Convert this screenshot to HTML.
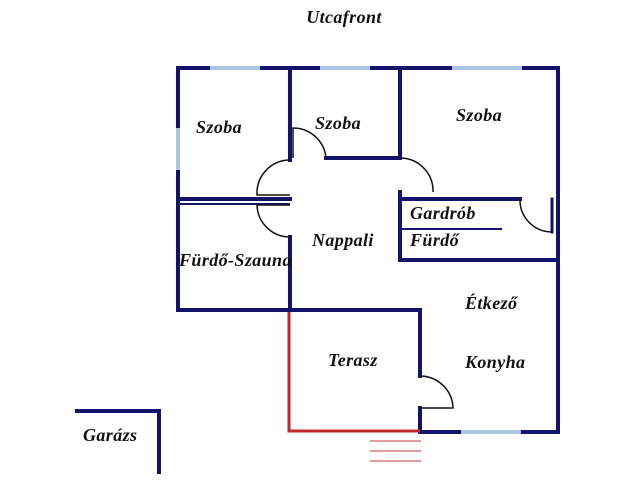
<!DOCTYPE html>
<html><head><meta charset="utf-8"><style>
html,body{margin:0;padding:0;background:#fff;width:640px;height:480px;overflow:hidden}
text{font-family:"Liberation Serif",serif;font-weight:bold;font-style:italic;font-size:18px;letter-spacing:0.4px;fill:#111}
</style></head><body>
<svg width="640" height="480" viewBox="0 0 640 480" xmlns="http://www.w3.org/2000/svg">
<g stroke="#13136b" stroke-width="4" fill="none" stroke-linecap="square">
<path d="M178 68 H558 V432 H420"/>
<path d="M178 68 V310 H420"/>
<path d="M290 68 V160"/>
<path d="M326 158 H400 V68"/>
<path d="M178 199 H290"/>
<path d="M290 237 V310"/>
<path d="M400 192 V260 H558"/>
<path d="M400 199 H520"/>
<path d="M552 199 V232" stroke-width="3"/>
<path d="M420 310 V376"/>
<path d="M420 408 V432"/>
<path d="M77 411 H159 V472"/>
</g>
<line x1="178" y1="204" x2="290" y2="204" stroke="#13136b" stroke-width="2"/>
<line x1="400" y1="229" x2="502" y2="229" stroke="#13136b" stroke-width="2"/>
<g stroke="#a9c6e2" stroke-width="4">
<line x1="210" y1="68" x2="260" y2="68"/>
<line x1="320" y1="68" x2="370" y2="68"/>
<line x1="452" y1="68" x2="522" y2="68"/>
<line x1="178" y1="128" x2="178" y2="170"/>
<line x1="461" y1="432" x2="521" y2="432"/>
</g>
<g stroke="#111" stroke-width="1.5" fill="none">
<path d="M293 158 V128 A33 33 0 0 1 326 158"/>
<path d="M290 160 A33 33 0 0 0 257 193 V195 H290"/>
<path d="M290 237 A33 33 0 0 1 257 205 H290"/>
<path d="M400 158 A33 33 0 0 1 433 192"/>
<path d="M520 199 A32 32 0 0 0 552 232"/>
<path d="M420 376 A33 33 0 0 1 453 408 H420"/>
</g>
<path d="M289 312 V431 H420" stroke="#c0282a" stroke-width="3" fill="none"/>
<g stroke="#d06060" stroke-width="1.2">
<line x1="370" y1="441" x2="421" y2="441"/>
<line x1="370" y1="451" x2="421" y2="451"/>
<line x1="370" y1="461" x2="421" y2="461"/>
</g>
<text x="344" y="23" text-anchor="middle">Utcafront</text>
<text x="196" y="133">Szoba</text>
<text x="315" y="129">Szoba</text>
<text x="456" y="121">Szoba</text>
<text x="410" y="219">Gardrób</text>
<text x="410" y="246">Fürdő</text>
<text x="312" y="246">Nappali</text>
<text x="179" y="266">Fürdő-Szauna</text>
<text x="465" y="309">Étkező</text>
<text x="328" y="366">Terasz</text>
<text x="465" y="368">Konyha</text>
<text x="83" y="441">Garázs</text>
</svg>
</body></html>
